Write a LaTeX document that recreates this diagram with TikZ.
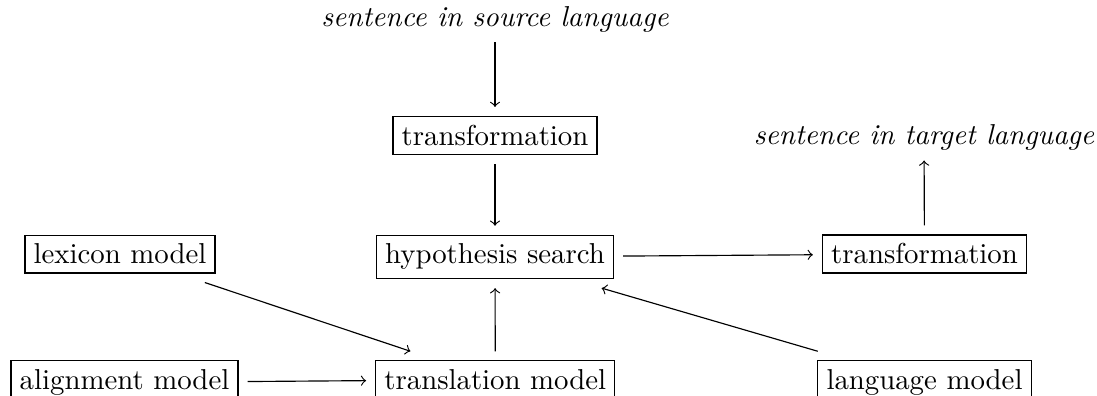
\documentclass[tikz,border=0pt]{standalone}
\begin{document}
\begin{tikzpicture}[
  x={(0.34722pt,0)}, y={(0,-0.34722pt)},
  box/.style={draw, line width=0.4pt, inner sep=3pt, outer sep=3.33pt, anchor=base},
  phrase/.style={inner sep=3.33pt, outer sep=0pt, anchor=base, font=\itshape},
  link/.style={->, line width=0.4pt}
]
\useasboundingbox (0,0) rectangle (1097,396);

% input and output sentences
\node[phrase] (src) at (495,27) {sentence in source language};
\node[phrase] (tgt) at (924,145) {sentence in target language};

% processing steps
\node[box] (t1)  at (495,145.5) {transformation};
\node[box] (hyp) at (495,264) {hypothesis search};
\node[box] (t2)  at (924.5,264) {transformation};

% models
\node[box] (lex)   at (120,264)   {lexicon model};
\node[box] (align) at (124.5,389.5) {alignment model};
\node[box] (tm)    at (495.3,389.5) {translation model};
\node[box] (lm)    at (924.5,389.5) {language model};

% data flow
\draw[link] (src) -- (t1);
\draw[link] (t1) -- (hyp);
\draw[link] (tm) -- (hyp);
\draw[link] (lex) -- (tm);
\draw[link] (align) -- (tm);
\draw[link] (lm) -- (hyp);
\draw[link] (hyp) -- (t2);
\draw[link] (t2) -- (tgt);
\end{tikzpicture}
\end{document}
